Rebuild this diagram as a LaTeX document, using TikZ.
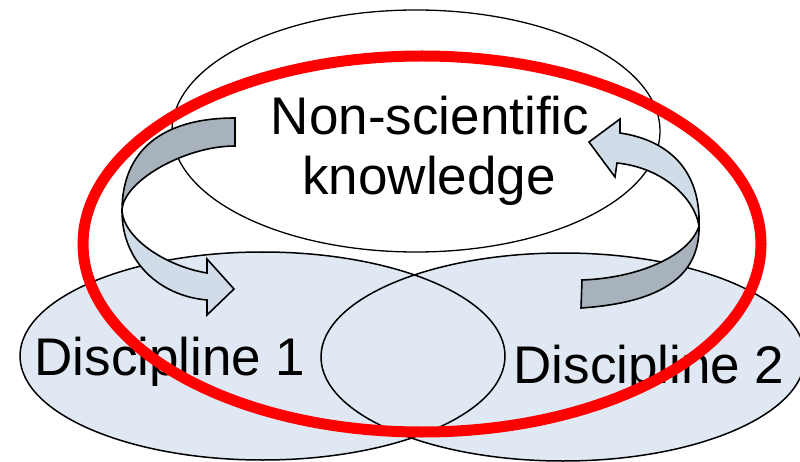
\documentclass[tikz,border=0pt]{standalone}
\usepackage{fontspec}
\setmainfont{Liberation Sans}
\usetikzlibrary{shapes.geometric}

\definecolor{discfill}{RGB}{223,232,243}
\definecolor{arrowfront}{RGB}{208,220,232}
\definecolor{arrowback}{RGB}{168,178,188}

\tikzset{
  field/.style={ellipse, inner sep=0pt, line width=1.5pt, draw=black},
  ribbonback/.style={fill=arrowback, draw=black, line width=1.6pt, line join=miter},
  ribbonfront/.style={fill=arrowfront, draw=black, line width=1.6pt, line join=miter},
  label/.style={inner sep=0pt, anchor=base, font=\fontsize{53}{60}\selectfont},
  scope ring/.style={draw=red, line width=11pt}
}

\begin{document}
\begin{tikzpicture}[x=1pt, y=-1pt]
  \useasboundingbox (0,0) rectangle (800,462);
  \fill[white] (0,0) rectangle (800,462);

  % the two disciplines: fills first, then both outlines so the lens shows
  \node[field, draw=none, fill=discfill, minimum width=485pt, minimum height=208pt] (d1fill) at (262.5,356) {};
  \node[field, draw=none, fill=discfill, minimum width=484pt, minimum height=208pt] (d2fill) at (563,357) {};
  \node[field, minimum width=485pt, minimum height=208pt] (d1) at (262.5,356) {};
  \node[field, minimum width=484pt, minimum height=208pt] (d2) at (563,357) {};

  % non-scientific knowledge
  \node[field, line width=1.3pt, minimum width=488pt, minimum height=242pt] (nsk) at (416,131) {};

  % left curved arrow: back face, then front face with head
  \path[ribbonback] (235,118) .. controls (161.5,118) and (122,151) .. (122,211)
     .. controls (122,182) and (184,146) .. (235,146) -- cycle;
  \path[ribbonfront] (122,211) .. controls (122,262) and (160,296) .. (207,300)
     -- (207,315) -- (234,289) -- (207,259) -- (207,273)
     .. controls (165,266) and (124,238) .. (122,211) -- cycle;

  % right curved arrow
  \path[ribbonback] (581,308) .. controls (655,303) and (700,280) .. (699,226)
     .. controls (690,255) and (640,278) .. (582,280) -- cycle;
  \path[ribbonfront] (699,226) .. controls (701,170) and (668,140) .. (620,133)
     -- (620,119) -- (589,142) -- (615,177) -- (617,163)
     .. controls (665,168) and (695,200) .. (699,226) -- cycle;

  % labels
  \node[label] (t1) at (430,135) {Non-scientific};
  \node[label] (t2) at (429,195) {knowledge};
  \node[label] (l1) at (170,375) {Discipline 1};
  \node[label] (l2) at (649,383) {Discipline 2};

  % red ring around everything
  \draw[scope ring] (422,244) ellipse [x radius=339, y radius=188];
\end{tikzpicture}
\end{document}
